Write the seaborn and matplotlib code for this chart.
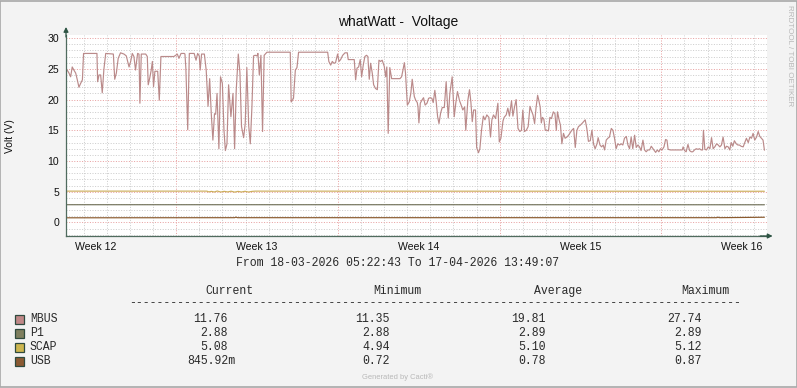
import numpy as np
import pandas as pd
import matplotlib
matplotlib.use("Agg")
import matplotlib.pyplot as plt
import matplotlib.dates as mdates
from matplotlib.ticker import MultipleLocator, NullFormatter
from matplotlib.patches import Rectangle
import seaborn as sns

# ---------------- data ----------------
START = "2026-03-18 05:22:43"
END = "2026-04-17 13:49:07"

series_names = ["MBUS", "P1", "SCAP", "USB"]
legend_colors = ["#C08888", "#7F7F5F", "#CDB650", "#8B5A32"]
line_colors = ["#BA8A8A", "#74745C", "#CDAE5C", "#8B5A2E"]

# days since START, volts
mbus_days = [
    0.00, 0.13, 0.20, 0.27, 0.34, 0.42, 0.49, 0.56, 0.63, 0.71, 0.76, 1.34, 1.37, 1.43, 1.50, 1.57,
    1.64, 1.72, 2.00, 2.05, 2.11, 2.18, 2.26, 2.36, 2.51, 2.61, 2.73, 2.80, 2.87, 2.94, 3.01, 3.10,
    3.16, 3.20, 3.26, 3.45, 3.52, 3.56, 3.62, 3.69, 3.74, 3.79, 3.85, 3.97, 4.04, 4.11, 4.67, 4.75,
    4.82, 4.89, 4.98, 5.12, 5.15, 5.19, 5.27, 5.34, 5.55, 5.63, 5.70, 5.77, 5.81, 5.87, 5.99, 6.07,
    6.15, 6.22, 6.29, 6.36, 6.43, 6.48, 6.54, 6.62, 6.69, 6.77, 6.84, 6.90, 6.97, 7.04, 7.14, 7.23,
    7.30, 7.37, 7.46, 7.53, 7.60, 7.69, 7.76, 7.83, 7.91, 7.98, 8.05, 8.12, 8.19, 8.27, 8.31, 8.37,
    8.44, 8.51, 8.58, 8.70, 9.71, 9.75, 9.85, 9.93, 10.00, 10.07, 11.33, 11.38, 11.46, 11.53, 11.60,
    11.67, 11.76, 11.82, 11.89, 11.98, 12.08, 12.18, 12.22, 12.48, 12.54, 12.60, 12.67, 12.74, 12.80,
    12.87, 12.94, 13.01, 13.07, 13.13, 13.19, 13.26, 13.32, 13.40, 13.48, 13.55, 13.62, 13.69, 13.78,
    13.84, 13.89, 13.95, 14.02, 14.10, 14.46, 14.53, 14.59, 14.65, 14.70, 14.78, 14.86, 14.93, 14.99,
    15.08, 15.14, 15.21, 15.24, 15.28, 15.34, 15.41, 15.48, 15.55, 15.63, 15.70, 15.77, 15.84, 15.90,
    15.97, 16.03, 16.09, 16.15, 16.22, 16.29, 16.38, 16.46, 16.55, 16.62, 16.72, 16.81, 16.88, 16.95,
    17.04, 17.11, 17.18, 17.26, 17.31, 17.40, 17.47, 17.53, 17.59, 17.65, 17.73, 17.78, 17.86, 17.92,
    17.99, 18.07, 18.14, 18.22, 18.31, 18.38, 18.44, 18.51, 18.60, 18.70, 18.76, 18.83, 18.92, 18.97,
    19.06, 19.13, 19.20, 19.29, 19.35, 19.42, 19.49, 19.57, 19.65, 19.72, 19.78, 19.85, 19.93, 20.01,
    20.09, 20.14, 20.22, 20.29, 20.35, 20.42, 20.47, 20.53, 20.58, 20.63, 20.69, 20.75, 20.82, 20.89,
    20.95, 21.02, 21.10, 21.17, 21.23, 21.28, 21.35, 21.41, 21.47, 21.54, 21.61, 21.69, 21.76, 21.83,
    21.90, 21.98, 22.05, 22.12, 22.19, 22.26, 22.34, 22.41, 22.48, 22.55, 22.62, 22.70, 22.77, 22.84,
    22.91, 22.99, 23.04, 23.12, 23.19, 23.26, 23.32, 23.39, 23.46, 23.53, 23.61, 23.68, 23.75, 23.82,
    23.89, 23.97, 24.04, 24.11, 24.18, 24.26, 24.33, 24.40, 24.47, 24.54, 24.62, 24.69, 24.76, 24.83,
    24.90, 24.98, 25.05, 25.12, 25.19, 25.27, 25.34, 25.53, 25.60, 25.67, 25.74, 25.81, 25.89, 25.96,
    26.02, 26.07, 26.17, 26.68, 26.72, 26.78, 26.85, 26.93, 27.00, 27.07, 27.14, 27.21, 27.29, 27.36,
    27.43, 27.50, 27.56, 27.60, 27.66, 27.73, 27.81, 27.88, 27.95, 28.02, 28.09, 28.17, 28.24, 28.31,
    28.38, 28.45, 28.53, 28.60, 28.67, 28.74, 28.80, 28.87, 28.94, 29.02, 29.09, 29.16, 29.23, 29.32,
    29.39, 29.46, 29.54, 29.61, 29.68, 29.75, 29.82, 29.90, 29.97, 30.04, 30.11, 30.18, 30.24,
]
mbus_volts = [
    25.1, 24.3, 23.7, 25.3, 24.8, 24.3, 23.2, 22.0, 22.6, 23.2, 27.5, 27.5, 22.9, 24.0, 24.0, 21.1,
    24.9, 27.5, 27.4, 27.4, 23.3, 24.3, 26.7, 27.6, 27.4, 27.1, 25.3, 26.2, 27.5, 27.0, 24.8, 27.5,
    27.4, 19.4, 27.4, 27.4, 27.0, 22.4, 23.4, 24.8, 26.2, 22.1, 24.6, 24.6, 19.9, 27.0, 27.0, 27.2,
    27.4, 26.7, 27.5, 27.5, 27.4, 25.1, 15.1, 27.5, 27.5, 26.4, 27.5, 27.1, 24.8, 27.4, 27.4, 24.8,
    18.9, 23.4, 17.7, 13.4, 17.7, 17.6, 21.0, 12.0, 23.7, 22.6, 15.0, 11.7, 12.8, 22.4, 17.2, 21.0,
    12.0, 21.5, 27.4, 24.4, 15.6, 13.8, 16.1, 25.2, 15.8, 12.8, 18.8, 27.1, 27.2, 27.1, 27.5, 24.0,
    27.2, 14.8, 27.2, 27.7, 27.7, 19.6, 20.2, 24.8, 25.2, 27.7, 27.7, 26.2, 25.6, 26.2, 25.9,
    26.0, 27.4, 26.2, 26.5, 27.2, 27.6, 27.6, 26.5, 26.5, 23.2, 25.1, 25.3, 26.5, 23.7,
    25.6, 27.0, 27.2, 27.0, 23.3, 25.9, 24.3, 22.4, 21.8, 21.6, 26.4, 26.2, 26.4, 25.4,
    23.7, 25.3, 14.5, 25.2, 23.4, 23.4, 23.7, 24.8, 26.0, 24.3, 19.1, 19.6, 21.0, 23.3,
    20.5, 19.9, 19.5, 18.8, 16.2, 19.4, 19.9, 20.3, 19.1, 19.4, 20.2, 20.3, 20.2, 19.5,
    21.5, 19.6, 17.2, 16.1, 17.8, 18.7, 18.7, 22.9, 17.0, 21.0, 23.7, 17.2, 19.5, 21.3,
    19.8, 19.1, 18.3, 18.8, 15.0, 19.9, 21.6, 19.6, 16.4, 18.3, 18.3, 12.2, 11.35, 12.0,
    15.0, 17.3, 16.7, 17.5, 17.1, 13.9, 16.7, 17.5, 16.9, 19.4, 13.1, 13.7, 16.5, 17.1,
    17.5, 18.6, 17.3, 19.8, 17.3, 18.8, 20.0, 15.3, 14.8, 15.0, 18.3, 14.8, 15.0, 15.6,
    18.9, 18.3, 17.5, 16.1, 18.6, 20.7, 19.9, 18.8, 16.2, 17.1, 16.8, 15.0, 15.0, 14.9,
    17.1, 16.9, 18.0, 17.7, 15.0, 18.0, 16.7, 15.8, 12.8, 14.5, 13.7, 13.9, 14.2, 14.6,
    15.0, 15.3, 12.2, 15.0, 15.6, 15.8, 16.1, 16.4, 16.7, 15.3, 13.2, 13.3, 15.0, 12.8,
    12.0, 12.8, 13.8, 12.6, 12.3, 12.6, 11.8, 13.4, 13.7, 13.9, 15.3, 15.0, 13.7, 12.0,
    12.8, 12.6, 12.8, 12.6, 13.7, 14.0, 12.6, 12.0, 13.9, 12.0, 14.2, 12.2, 12.6, 12.3,
    11.7, 13.4, 11.8, 11.5, 11.8, 11.8, 12.4, 11.4, 11.8, 11.5, 12.0, 11.8, 12.3, 13.5,
    13.4, 11.9, 11.8, 11.8, 12.3, 11.7, 11.5, 12.7, 11.7, 11.5, 11.5, 11.8, 12.0, 11.9,
    12.0, 11.8, 11.8, 15.0, 11.9, 11.8, 12.3, 12.0, 13.8, 12.0, 12.3, 12.8, 12.6, 12.3,
    12.6, 13.9, 12.0, 12.4, 12.3, 11.8, 13.0, 12.4, 13.3, 12.8, 12.6, 12.6, 12.4, 12.3,
    13.0, 13.7, 13.0, 13.9, 13.7, 14.5, 13.4, 13.9, 14.8, 14.0, 13.7, 13.4, 11.76,
]

p1_days = [0.00, 15.00, 30.24]
p1_volts = [2.89, 2.89, 2.88]

scap_days = [0.00, 6.10, 6.18, 6.30, 6.42, 6.55, 6.70, 6.85, 7.00, 7.15, 7.30, 7.45, 7.60,
             7.75, 7.90, 8.05, 8.19, 30.24]
scap_volts = [5.10, 5.10, 4.98, 5.06, 4.96, 5.12, 4.95, 5.07, 4.97, 5.09, 4.94, 5.06, 4.96,
              5.08, 4.95, 5.06, 5.10, 5.08]

usb_days = [0.00, 7.30, 7.36, 7.42, 28.17, 28.23, 28.29, 30.24]
usb_volts = [0.76, 0.78, 0.87, 0.78, 0.78, 0.86, 0.78, 0.85]

week_labels = ["Week 12", "Week 13", "Week 14", "Week 15", "Week 16"]
week_label_dates = ["2026-03-19 12:00", "2026-03-26 12:00", "2026-04-02 12:00",
                    "2026-04-09 12:00", "2026-04-16 12:00"]

title = "whatWatt -  Voltage"
ylabel = "Volt (V)"
col_headers = ["Current", "Minimum", "Average", "Maximum"]
current_vals = ["11.76", "2.88", "5.08", "845.92m"]
minimum_vals = ["11.35", "2.88", "4.94", "0.72"]
average_vals = ["19.81", "2.89", "5.10", "0.78"]
maximum_vals = ["27.74", "2.89", "5.12", "0.87"]

# ---------------- style ----------------
sns.set_style("white")
plt.rcParams["font.family"] = ["Liberation Sans", "DejaVu Sans"]
MONO = ["Liberation Mono", "DejaVu Sans Mono"]

W, H = 797, 388
fig = plt.figure(figsize=(W / 100, H / 100), dpi=100, facecolor="#F3F3F3")


def fx(x):
    return x / W


def fy(y):
    return 1 - y / H


ax = fig.add_axes([fx(66), fy(236), 701 / W, 201 / H])
ax.set_facecolor("white")

t0 = pd.Timestamp(START)
frames = []
for name, d, v in zip(series_names,
                      [mbus_days, p1_days, scap_days, usb_days],
                      [mbus_volts, p1_volts, scap_volts, usb_volts]):
    frames.append(pd.DataFrame({
        "time": t0 + pd.to_timedelta(np.array(d), unit="D"),
        "volt": v,
        "series": name,
    }))
df = pd.concat(frames, ignore_index=True)

sns.lineplot(data=df, x="time", y="volt", hue="series", hue_order=series_names,
             palette=dict(zip(series_names, line_colors)), estimator=None, sort=False,
             legend=False, linewidth=0.85, ax=ax)

ax.set_xlim(t0, pd.Timestamp(END))
ax.set_ylim(-2.2, 30.5)
ax.set_xlabel("")
ax.set_ylabel("")

ax.yaxis.set_major_locator(MultipleLocator(5))
ax.yaxis.set_minor_locator(MultipleLocator(1))
ax.xaxis.set_major_locator(mdates.WeekdayLocator(byweekday=mdates.MO))
ax.xaxis.set_minor_locator(mdates.DayLocator())
ax.xaxis.set_major_formatter(NullFormatter())

ax.set_axisbelow(True)
ax.grid(which="minor", color="#CDCDCD", linestyle=(0, (1, 1.6)), linewidth=0.72)
ax.grid(which="major", color="#E8A2A2", linestyle=(0, (1, 1.6)), linewidth=0.72)

axis_col = "#4F6B5E"
for s in ["top", "right"]:
    ax.spines[s].set_visible(False)
for s in ["left", "bottom"]:
    ax.spines[s].set_color(axis_col)
    ax.spines[s].set_linewidth(0.9)

ax.tick_params(axis="y", which="major", length=2, width=0.8, color=axis_col,
               direction="inout", labelsize=7.6, pad=4, labelcolor="#111111")
ax.tick_params(axis="y", which="minor", length=0)
ax.tick_params(axis="x", which="both", length=0)

sec = ax.secondary_xaxis("bottom")
sec.set_xticks(mdates.date2num(pd.to_datetime(week_label_dates)), labels=week_labels)
sec.tick_params(length=0, pad=4.5, labelsize=7.6, labelcolor="#111111")
sec.spines["bottom"].set_visible(False)

# axis arrows
arrow_col = "#2E5444"
ax.annotate("", xy=(0, 1.04), xytext=(0, 0.99), xycoords="axes fraction",
            arrowprops=dict(arrowstyle="-|>", color=arrow_col, lw=0.9, mutation_scale=7,
                            shrinkA=0, shrinkB=0), annotation_clip=False)
ax.annotate("", xy=(1.008, 0), xytext=(0.99, 0), xycoords="axes fraction",
            arrowprops=dict(arrowstyle="-|>", color=arrow_col, lw=0.9, mutation_scale=7,
                            shrinkA=0, shrinkB=0), annotation_clip=False)

# texts
fig.text(fx(398), fy(22), title, ha="center", va="center", fontsize=10, color="#111111")
fig.text(fx(10), fy(136), ylabel, ha="center", va="center", rotation=90, fontsize=7.4,
         color="#111111")
fig.text(fx(789), fy(5), "RRDTOOL / TOBI OETIKER", ha="center", va="top", rotation=270,
         fontsize=5.8, color="#B8B8B8")

fig.text(fx(398), fy(263), "From 18-03-2026 05:22:43 To 17-04-2026 13:49:07",
         ha="center", va="center", fontsize=8.3, family=MONO, color="#2A2A2A")

header_x = [229, 397, 558, 705]
for hx, htxt in zip(header_x, col_headers):
    fig.text(fx(hx), fy(291), htxt, ha="center", va="center", fontsize=8.3, family=MONO,
             color="#2A2A2A")
fig.text(fx(435.5), fy(303), "-" * 89, ha="center", va="center", fontsize=8.3, family=MONO,
         color="#2A2A2A")

row_y = [319, 333, 347, 361]
col_right = [228, 390, 546, 702]
char_w = 6.9
cols = [current_vals, minimum_vals, average_vals, maximum_vals]
for i, name in enumerate(series_names):
    y = row_y[i]
    fig.add_artist(Rectangle((fx(15), fy(y + 4.5)), 9 / W, 9 / H, transform=fig.transFigure,
                             facecolor=legend_colors[i], edgecolor="#2F4A3E", linewidth=0.9))
    fig.text(fx(30), fy(y), name, ha="left", va="center", fontsize=8.3, family=MONO,
             color="#2A2A2A")
    for cx, vals in zip(col_right, cols):
        v = vals[i]
        r = cx + (char_w if v[-1].isalpha() else 0)
        fig.text(fx(r), fy(y), v, ha="right", va="center", fontsize=8.3, family=MONO,
                 color="#2A2A2A")

fig.text(fx(398), fy(377), "Generated by Cacti®", ha="center", va="center", fontsize=5.4,
         color="#B8B8B8")

fig.add_artist(Rectangle((0.0006, 0.0013), 0.9988, 0.9974, transform=fig.transFigure,
                         fill=False, edgecolor="#A8A8A8", linewidth=1.2))

fig.savefig("out.png", dpi=100, facecolor=fig.get_facecolor())
